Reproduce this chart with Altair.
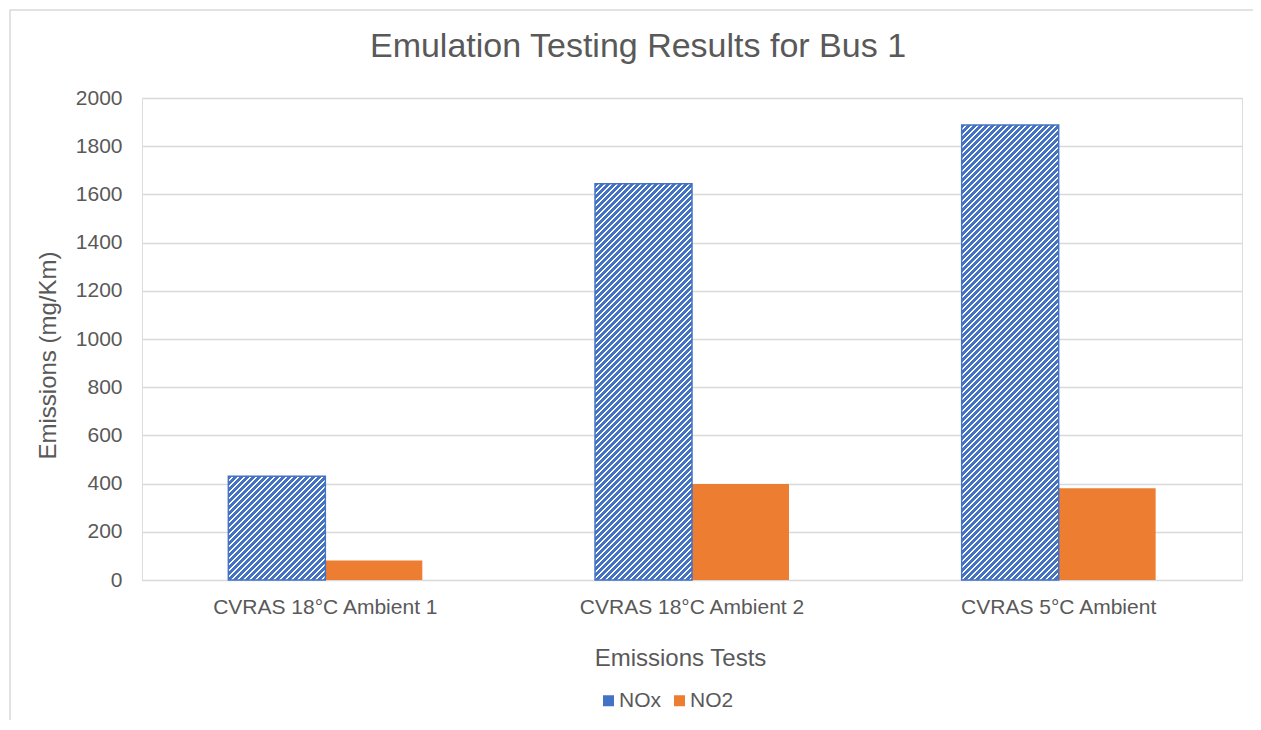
import altair as alt
import pandas as pd

tests = ["CVRAS 18°C Ambient 1", "CVRAS 18°C Ambient 2", "CVRAS 5°C Ambient"]
series = ["NOx", "NO2"]
nox = [430, 1644, 1888]
no2 = [81, 398, 381]

rows = []
for t, a, b in zip(tests, nox, no2):
    rows.append({"test": t, "series": "NOx", "value": a})
    rows.append({"test": t, "series": "NO2", "value": b})
df = pd.DataFrame(rows)

BLUE = "#4472C4"
ORANGE = "#ED7D31"
GRAY = "#595959"
GRID = "#D9D9D9"
FONT = "Liberation Sans"

PW, PH = 1100, 482
YMAX = 2000
PAD_IN = 0.471
PAD_OUT = PAD_IN / 2
step = PW / (len(tests) - PAD_IN + 2 * PAD_OUT)
bar_w = step * (1 - PAD_IN) / 2


def hatch(value, period=6.0, frac_blue=0.62):
    """Diagonal '/' stripes at 45 degrees in pixel space for a bar of given value."""
    W = bar_w
    H = value / YMAX * PH
    c = (W + H) / (W * W + H * H)
    L = W + H
    stops = []
    n = int(L / period) + 1
    for j in range(n + 1):
        t0 = j * period / L
        if t0 > 1:
            break
        t1 = min(1.0, (j * period + period * frac_blue) / L)
        t2 = min(1.0, (j + 1) * period / L)
        stops.append(alt.GradientStop(color=BLUE, offset=t0))
        stops.append(alt.GradientStop(color=BLUE, offset=t1))
        if t1 < 1:
            stops.append(alt.GradientStop(color="#FFFFFF", offset=t1))
            stops.append(alt.GradientStop(color="#FFFFFF", offset=t2))
    return alt.LinearGradient(gradient="linear", stops=stops,
                              x1=0, y1=0, x2=c * W, y2=c * H)


x_enc = alt.X("test:N", sort=tests,
              scale=alt.Scale(paddingInner=PAD_IN, paddingOuter=PAD_OUT),
              axis=alt.Axis(domain=False, ticks=False, labelPadding=16,
                            labelFontSize=21, labelColor=GRAY, labelAngle=0,
                            labelFont=FONT, labelLimit=0,
                            title="Emissions Tests", titleFontSize=24,
                            titleColor=GRAY, titleFontWeight="normal",
                            titleFont=FONT,
                            titleX=538, titleY=85, titleBaseline="alphabetic",
                            titleAlign="center"))
xo_enc = alt.XOffset("series:N", sort=series)
y_enc = alt.Y("value:Q",
              scale=alt.Scale(domain=[0, YMAX], nice=False),
              axis=alt.Axis(values=list(range(0, YMAX + 1, 200)), format="d",
                            domain=False,
                            ticks=False, labelPadding=20, labelFontSize=21,
                            labelColor=GRAY, labelFont=FONT,
                            gridColor=GRID, gridWidth=1.3,
                            title="Emissions (mg/Km)", titleFontSize=24,
                            titleColor=GRAY, titleFontWeight="normal",
                            titleFont=FONT,
                            titleX=-94, titleY=257, titleAngle=270,
                            titleBaseline="middle", titleAlign="center"))

frame = alt.Chart(pd.DataFrame({"a": [0]})).mark_rect(
    fill="white", fillOpacity=0, stroke=GRID, strokeWidth=1.5
).encode(x=alt.value(-132), y=alt.value(-88), x2=alt.value(1200), y2=alt.value(700))

base = alt.Chart(df).mark_bar().encode(
    x=x_enc, xOffset=xo_enc, y=y_enc,
    color=alt.Color("series:N",
                    scale=alt.Scale(domain=series, range=[BLUE, ORANGE]),
                    legend=alt.Legend(title=None, orient="none", legendX=456,
                                      legendY=592, direction="horizontal",
                                      symbolType="square", symbolSize=121,
                                      symbolStrokeWidth=0, labelFontSize=21,
                                      labelColor=GRAY, labelFont=FONT,
                                      labelOffset=0, columnPadding=8,
                                      padding=0)),
)

layers = [frame, base]
for t, v in zip(tests, nox):
    layers.append(
        alt.Chart(df).transform_filter(
            (alt.datum.test == t) & (alt.datum.series == "NOx")
        ).mark_bar(stroke=BLUE, strokeWidth=1.5).encode(
            x=alt.X("test:N", sort=tests), xOffset=xo_enc, y=alt.Y("value:Q"),
            fill=alt.value(hatch(v)),
        )
    )

chart = alt.layer(*layers).properties(
    width=PW, height=PH,
    title=alt.TitleParams("Emulation Testing Results for Bus 1", fontSize=34,
                          color=GRAY, fontWeight="normal", font=FONT,
                          anchor="middle", frame="group", dx=-54,
                          offset=-82, baseline="alphabetic"),
    autosize=alt.AutoSizeParams(type="none"),
    padding={"left": 134, "top": 90, "right": 11, "bottom": 140},
).configure_view(stroke=None).configure(background="white")

chart.save("out.html", embed_options={"renderer": "svg", "actions": False})
